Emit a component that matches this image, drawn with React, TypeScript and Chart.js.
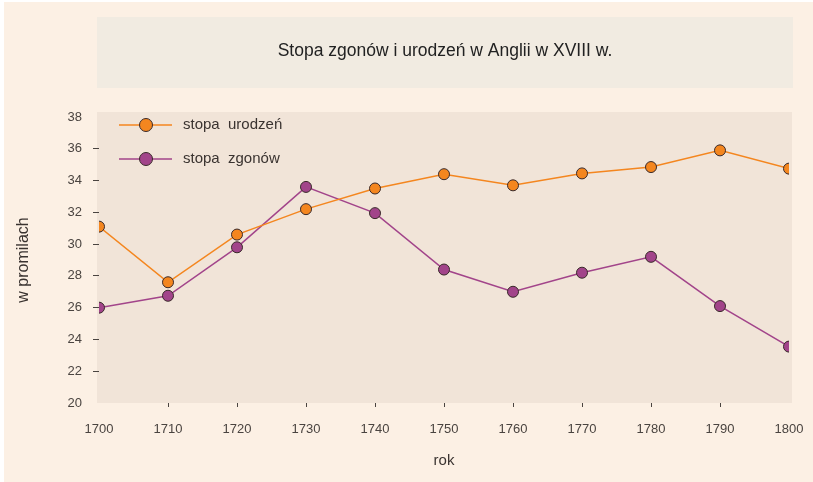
import React, { useEffect, useRef } from "react";
import { Chart, registerables } from "chart.js";

Chart.register(...registerables);

const years = [1700, 1710, 1720, 1730, 1740, 1750, 1760, 1770, 1780, 1790, 1800];
const birthRate = [31.1, 27.6, 30.6, 32.2, 33.5, 34.4, 33.7, 34.45, 34.85, 35.9, 34.75];
const deathRate = [26.0, 26.75, 29.8, 33.6, 31.95, 28.4, 27.0, 28.2, 29.2, 26.1, 23.55];
const yTicks = [20, 22, 24, 26, 28, 30, 32, 34, 36, 38];

const titleText = "Stopa zgonów i urodzeń w Anglii w XVIII w.";
const labelBirth = "stopa  urodzeń";
const labelDeath = "stopa  zgonów";

const ORANGE = "#f4861f";
const PURPLE = "#a2448a";
const MARKER_BORDER = "#3a2a2a";
const FONT = "'Liberation Sans', Arial, Helvetica, sans-serif";

const bgPlugin = {
  id: "bgPlugin",
  afterLayout(chart: any) {
    const ca = chart.chartArea;
    if (chart.titleBlock) {
      chart.titleBlock.left = ca.left - 2;
      chart.titleBlock.right = ca.right + 4;
    }
  },
  beforeDraw(chart: any) {
    const { ctx, width, height, chartArea: ca } = chart;
    ctx.save();
    ctx.fillStyle = "#ffffff";
    ctx.fillRect(0, 0, width, height);
    ctx.fillStyle = "#fcf0e4";
    ctx.fillRect(4, 2, width - 4, height - 2);
    // title box
    ctx.fillStyle = "#f1ebe1";
    ctx.fillRect(ca.left - 2, 17, ca.right - ca.left + 6, 71);
    // plot area
    ctx.fillStyle = "#f1e4d8";
    ctx.fillRect(ca.left - 2, ca.top - 5, ca.right - ca.left + 5, ca.bottom - ca.top + 5);
    ctx.restore();
  },
  afterDraw(chart: any) {
    const { ctx } = chart;
    const rows = [
      { y: 125, color: ORANGE, text: labelBirth },
      { y: 159, color: PURPLE, text: labelDeath },
    ];
    ctx.save();
    rows.forEach((r) => {
      ctx.strokeStyle = r.color;
      ctx.lineWidth = 1.5;
      ctx.beginPath();
      ctx.moveTo(119, r.y);
      ctx.lineTo(172, r.y);
      ctx.stroke();
      ctx.beginPath();
      ctx.arc(146, r.y, 6.5, 0, Math.PI * 2);
      ctx.fillStyle = r.color;
      ctx.fill();
      ctx.lineWidth = 1;
      ctx.strokeStyle = MARKER_BORDER;
      ctx.stroke();
      ctx.fillStyle = "#3a3330";
      ctx.font = `15px ${FONT}`;
      ctx.textBaseline = "middle";
      ctx.textAlign = "left";
      ctx.fillText(r.text, 183, r.y);
    });
    ctx.restore();
  },
};

export default function App() {
  const canvasRef = useRef<HTMLCanvasElement | null>(null);

  useEffect(() => {
    document.body.style.margin = "0";
    const canvas = canvasRef.current;
    if (!canvas) return;
    const chart = new Chart(canvas, {
      type: "line",
      data: {
        datasets: [
          {
            label: labelBirth,
            data: years.map((x, i) => ({ x, y: birthRate[i] })),
            borderColor: ORANGE,
            backgroundColor: ORANGE,
            borderWidth: 1.5,
            pointRadius: 5.5,
            pointBorderWidth: 1,
            pointBorderColor: MARKER_BORDER,
            pointBackgroundColor: ORANGE,
            tension: 0,
          },
          {
            label: labelDeath,
            data: years.map((x, i) => ({ x, y: deathRate[i] })),
            borderColor: PURPLE,
            backgroundColor: PURPLE,
            borderWidth: 1.5,
            pointRadius: 5.5,
            pointBorderWidth: 1,
            pointBorderColor: MARKER_BORDER,
            pointBackgroundColor: PURPLE,
            tension: 0,
          },
        ],
      },
      options: {
        animation: false,
        responsive: false,
        maintainAspectRatio: false,
        layout: { padding: { left: 0, right: 24, top: 0, bottom: 0 } },
        plugins: {
          legend: { display: false },
          tooltip: { enabled: false },
          title: {
            display: true,
            text: titleText,
            color: "#222222",
            font: { family: FONT, size: 17.5, weight: "normal" as any },
            padding: { top: 41, bottom: 55 },
          },
        },
        scales: {
          x: {
            type: "linear",
            min: 1700,
            max: 1800,
            afterFit: (s: any) => {
              s.height = 79;
              s.paddingLeft = 0;
              s.paddingRight = 0;
            },
            afterBuildTicks: (s: any) => {
              s.ticks = years.map((v) => ({ value: v }));
            },
            ticks: {
              color: "#4a4440",
              font: { family: FONT, size: 13 },
              padding: 15,
              maxRotation: 0,
              autoSkip: false,
              callback: (v: any) => String(v),
            },
            grid: {
              drawOnChartArea: false,
              tickLength: 4,
              color: (c: any) =>
                c.tick && (c.tick.value === 1700 || c.tick.value === 1800) ? "rgba(0,0,0,0)" : "#4a4440",
            },
            border: { display: false },
            title: {
              display: true,
              text: "rok",
              color: "#3a3330",
              font: { family: FONT, size: 15 },
              padding: { top: 0, bottom: 12 },
            },
          },
          y: {
            type: "linear",
            min: 20,
            max: 38,
            afterFit: (s: any) => {
              s.width = 99;
              s.paddingTop = 0;
              s.paddingBottom = 0;
            },
            afterBuildTicks: (s: any) => {
              s.ticks = yTicks.map((v) => ({ value: v }));
            },
            ticks: {
              color: "#4a4440",
              font: { family: FONT, size: 13 },
              padding: 11,
            },
            grid: {
              drawOnChartArea: false,
              tickLength: 6,
              color: (c: any) =>
                c.tick && (c.tick.value === 20 || c.tick.value === 38) ? "rgba(0,0,0,0)" : "#4a4440",
            },
            border: { display: false },
            title: {
              display: true,
              text: "w promilach",
              color: "#3a3330",
              font: { family: FONT, size: 16 },
              padding: { top: 14, bottom: 0 },
            },
          },
        },
      },
      plugins: [bgPlugin],
    });
    return () => chart.destroy();
  }, []);

  return (
    <div style={{ width: 813, height: 482 }}>
      <canvas ref={canvasRef} width={813} height={482} style={{ display: "block" }} />
    </div>
  );
}
